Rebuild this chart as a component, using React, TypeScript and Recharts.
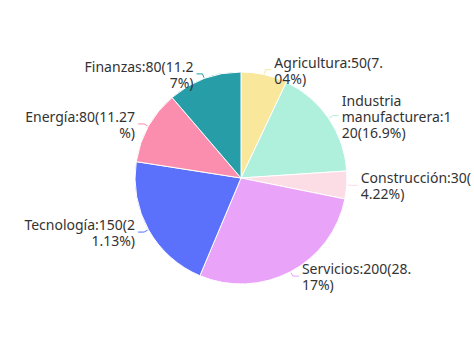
import React from "react";
import { PieChart, Pie, Cell } from "recharts";

const categories = [
  "Agricultura",
  "Industria manufacturera",
  "Construcción",
  "Servicios",
  "Tecnología",
  "Energía",
  "Finanzas",
];
const values = [50, 120, 30, 200, 150, 80, 80];
const colors = ["#f9e79b", "#aff0dc", "#fddde5", "#e9a4f9", "#5b70fb", "#fb8eae", "#279ea7"];

const total = values.reduce((a, b) => a + b, 0);
const data = categories.map((name, i) => ({ name, value: values[i] }));

// largest-remainder percentages (2 decimals) summing to 100
function percentsWithPrecision(vals: number[], precision: number): number[] {
  const digits = Math.pow(10, precision);
  const sum = vals.reduce((a, b) => a + b, 0);
  const target = 100 * digits;
  const raw = vals.map((v) => (v / sum) * target);
  const seats = raw.map((r) => Math.floor(r));
  let seatSum = seats.reduce((a, b) => a + b, 0);
  const rem = raw.map((r, i) => r - seats[i]);
  while (seatSum < target) {
    let maxI = -1;
    let maxV = -1;
    rem.forEach((r, i) => {
      if (r > maxV) {
        maxV = r;
        maxI = i;
      }
    });
    seats[maxI] += 1;
    rem[maxI] = 0;
    seatSum += 1;
  }
  return seats.map((s) => s / digits);
}
const percents = percentsWithPrecision(values, 2);

const FONT_SIZE = 14;
const FONT_FAMILY = "'Noto Sans', 'DejaVu Sans', sans-serif";
const WRAP_WIDTH = 116;
const LINE_H = 16;

let ctx: CanvasRenderingContext2D | null = null;
function measure(s: string): number {
  if (!ctx) {
    const c = document.createElement("canvas");
    ctx = c.getContext("2d");
  }
  if (!ctx) return s.length * 7.5;
  ctx.font = `${FONT_SIZE}px ${FONT_FAMILY}`;
  return ctx.measureText(s).width;
}

function wrap(text: string): string[] {
  const words = text.split(" ");
  const lines: string[] = [];
  let cur = "";
  for (const w of words) {
    const cand = cur ? cur + " " + w : w;
    if (measure(cand) <= WRAP_WIDTH) {
      cur = cand;
      continue;
    }
    if (cur) {
      lines.push(cur);
      cur = "";
    }
    let piece = "";
    for (const ch of w) {
      if (measure(piece + ch) > WRAP_WIDTH && piece) {
        lines.push(piece);
        piece = ch;
      } else piece += ch;
    }
    cur = piece;
  }
  if (cur) lines.push(cur);
  return lines;
}

const RADIAN = Math.PI / 180;

const renderLabel = (props: any) => {
  const { cx, cy, midAngle, outerRadius, name, value, index } = props;
  const color = colors[index];
  const cos = Math.cos(-midAngle * RADIAN);
  const sin = Math.sin(-midAngle * RADIAN);
  const sx = cx + (outerRadius + 1) * cos;
  const sy = cy + (outerRadius + 1) * sin;
  const mx = cx + (outerRadius + 5) * cos;
  const my = cy + (outerRadius + 5) * sin;
  const right = cos >= 0;
  const ex = mx + (right ? 1 : -1) * 6;
  const ey = my;
  const tx = ex + (right ? 1 : -1) * 3;
  const pct = percents[index];
  const lines = wrap(`${name}:${value}(${pct}%)`);
  const startY = ey - ((lines.length - 1) * LINE_H) / 2;
  return (
    <g key={`lbl-${index}`}>
      <polyline
        points={`${sx},${sy} ${mx},${my} ${ex},${ey}`}
        fill="none"
        stroke={color}
        strokeWidth={1}
      />
      <text
        x={tx}
        y={startY}
        textAnchor={right ? "start" : "end"}
        dominantBaseline="central"
        fontSize={FONT_SIZE}
        fontFamily={FONT_FAMILY}
        fill="#333"
      >
        {lines.map((l, i) => (
          <tspan key={i} x={tx} y={startY + i * LINE_H}>
            {l}
          </tspan>
        ))}
      </text>
    </g>
  );
};

export default function App() {
  return (
    <div style={{ position: "absolute", left: 0, top: 0, width: 474, height: 356, background: "#fff" }}>
      <PieChart width={474} height={356} margin={{ top: 0, right: 0, bottom: 0, left: 0 }}>
        <Pie
          data={data}
          dataKey="value"
          nameKey="name"
          cx={241}
          cy={178}
          outerRadius={106}
          startAngle={90}
          endAngle={-270}
          stroke="#fff"
          strokeWidth={1}
          label={renderLabel}
          labelLine={false}
          isAnimationActive={false}
        >
          {data.map((d, i) => (
            <Cell key={d.name} fill={colors[i]} />
          ))}
        </Pie>
      </PieChart>
    </div>
  );
}
